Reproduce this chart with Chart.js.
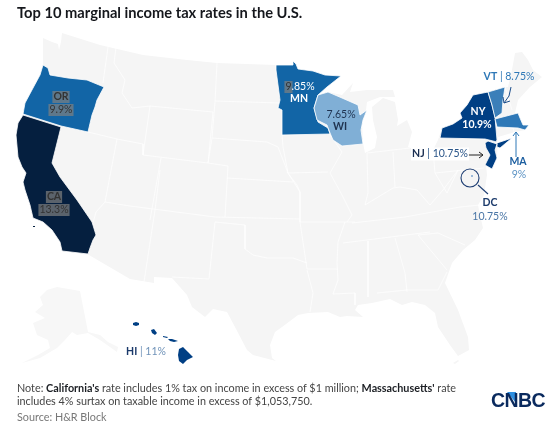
<!DOCTYPE html>
<html>
<head>
<meta charset="utf-8">
<script src="https://cdn.jsdelivr.net/npm/chart.js@4/dist/chart.umd.min.js"></script>
<style>
  body { margin: 0; background: #fff; font-family: Lato, sans-serif; }
  #wrap { position: relative; width: 550px; height: 427px; overflow: hidden; }
  canvas { position: absolute; left: 0; top: 0; }
  h1 { position: absolute; left: 17px; top: 2px; margin: 0; font: 700 14.7px/20px Lato, sans-serif; color: #15171c; white-space: nowrap; }
  #note { position: absolute; left: 17px; top: 381px; font: 10.8px/13px Lato, sans-serif; color: #444; white-space: nowrap; }
  #note b { color: #1c1f24; }
  #source { position: absolute; left: 17px; top: 410px; font: 10.8px/13px Lato, sans-serif; color: #777; white-space: nowrap; }
  #logo { position: absolute; left: 491px; top: 390px; font: 900 19.5px/20px "Liberation Sans", sans-serif; color: #0a2a5e; letter-spacing: -0.6px; }
</style>
</head>
<body>
<div id="wrap">
  <canvas id="mapa" width="550" height="427"></canvas>
  <h1>Top 10 marginal income tax rates in the U.S.</h1>
  <div id="note">Note: <b>California's</b> rate includes 1% tax on income in excess of $1 million; <b>Massachusetts'</b> rate<br>includes 4% surtax on taxable income in excess of $1,053,750.</div>
  <div id="source">Source: H&amp;R Block</div>
  <div id="logo">CNBC</div>
</div>
<script>
// ---------------- DATA ----------------
const stateCodes = ["CA", "HI", "NY", "NJ", "DC", "OR", "MN", "MA", "VT", "WI"];
const stateRates = ["13.3%", "11%", "10.9%", "10.75%", "10.75%", "9.9%", "9.85%", "9%", "8.75%", "7.65%"];

// outlines
const land = [[43,38],[52,42],[58,44],[59,50],[61,42],[62,33],[100,45],[143,55],[187,60],[217,63],[276,65],[293,65],[293,61],[296,64],[298,69],[313,71],[325,75],[341,76],[327,87],[318,95],[328,92],[342,95],[353,83],[350,92],[367,90],[393,90],[395,97],[380,97],[367,102],[366,110],[362,123],[363,143],[365,153],[375,148],[377,137],[373,120],[372,107],[383,98],[395,102],[398,120],[397,126],[407,120],[412,132],[408,147],[420,152],[433,150],[438,140],[442,128],[453,124],[462,118],[460,113],[467,105],[473,95],[488,92],[505,87],[508,87],[512,70],[515,53],[522,52],[528,60],[533,70],[542,77],[530,87],[518,100],[515,113],[520,118],[523,125],[529,125],[525,130],[515,132],[498,137],[497,147],[497,158],[492,169],[486,165],[487,175],[484,195],[478,205],[480,215],[483,228],[475,240],[463,250],[452,263],[445,283],[458,310],[468,337],[469,350],[458,356],[450,345],[438,327],[435,313],[425,305],[412,302],[402,305],[390,299],[372,303],[358,305],[355,310],[363,317],[347,316],[340,317],[328,312],[308,313],[298,315],[282,327],[275,332],[270,345],[272,358],[276,361],[253,355],[247,350],[235,327],[227,312],[213,309],[205,317],[192,307],[187,295],[172,278],[154,277],[154,283],[130,279],[89,255],[62,251],[60,242],[52,230],[43,222],[33,218],[30,205],[25,190],[23,182],[26,173],[22,167],[18,157],[16,135],[23,115],[25,103],[33,88],[40,75],[43,65],[43,50]];
const floridaKeys = [[453,363],[458,360],[459,361],[455,364]];
const alaska = [[47,290],[57,287],[80,291],[88,332],[100,335],[108,342],[118,347],[117,352],[100,340],[88,333],[77,335],[72,332],[65,340],[57,348],[40,358],[22,363],[38,355],[50,348],[48,340],[37,335],[33,323],[45,318],[35,312],[43,305],[40,297]];
const oregon = [[43,65],[48,68],[50,75],[68,78],[87,80],[104,87],[97,100],[95,107],[92,115],[88,132],[61,126],[23,114],[25,103],[33,88],[40,75]];
const california = [[23,115],[61,127],[52,163],[60,177],[77,200],[92,222],[96,235],[93,240],[90,248],[88,254],[62,251],[60,242],[52,230],[43,222],[33,218],[30,205],[25,190],[23,182],[26,173],[22,167],[18,157],[16,135],[18,123]];
const minnesota = [[276,65],[293,65],[293,61],[296,64],[298,69],[313,71],[325,75],[341,76],[327,87],[318,95],[314,108],[318,122],[328,128],[330,134],[282,135],[282,110],[278,108],[280,100],[276,70]];
const wisconsin = [[318,95],[328,92],[342,98],[358,105],[360,115],[367,110],[363,120],[361,130],[363,144],[342,146],[333,140],[330,133],[327,125],[317,120],[314,108]];
const newYork = [[440,138],[442,128],[453,124],[462,118],[460,113],[467,105],[473,95],[488,92],[492,105],[495,117],[497,140],[497,143],[512,138],[500,148],[497,147],[497,142],[485,139]];
const vermont = [[488,92],[505,87],[503,100],[502,113],[495,118],[492,105]];
const massachusetts = [[495,119],[518,113],[520,118],[523,125],[529,125],[525,130],[518,128],[497,127]];
const newJersey = [[485,143],[488,141],[497,144],[495,150],[497,158],[492,169],[485,165],[490,155],[486,148]];
const kauai = [[133,323],[136,322],[139,323],[139,325],[136,326],[133,325]];
const oahu = [[151,330],[154,329],[157,333],[155,335],[152,333]];
const molokai = [[163,336],[168,337],[167,338],[163,337]];
const maui = [[168,339],[172,339],[178,341],[174,342],[170,341]];
const bigIsland = [[179,349],[183,347],[188,352],[193,357],[187,360],[183,364],[179,361],[178,355]];
const dcPoint = [[472,176]];
const lensPoint = [[470,178]];
const catalina = [[33,226],[35,226],[35,227],[33,227]];
const logoWedge = [[507,392],[516,392],[516,403]];

// divisas interiores
const borders = [
  [[108,47],[103,83]], [[116,47],[114,63],[125,80],[122,93],[132,108],[150,106]],
  [[88,132],[117,139],[143,144]], [[150,106],[213,112],[208,163],[143,155],[150,106]],
  [[143,144],[143,155]], [[161,158],[150,220]], [[117,139],[105,202],[96,212],[93,223]],
  [[105,202],[130,206],[215,217],[300,219]], [[155,210],[144,282]], [[160,170],[155,210]],
  [[208,163],[228,166],[225,217]], [[227,178],[293,182]], [[287,172],[297,185],[300,192],[300,222],[307,269]],
  [[217,63],[215,102],[212,138],[208,163]], [[215,101],[280,103]], [[212,138],[267,142],[278,147],[288,173],[300,192]],
  [[282,135],[283,147],[288,173],[328,172]], [[330,135],[342,152],[330,173],[342,195],[352,215],[347,222]],
  [[300,222],[355,222]], [[367,153],[368,193],[365,205]], [[393,152],[395,187]], [[367,153],[410,148]],
  [[365,205],[393,188],[400,187],[417,190],[430,205],[443,190],[458,170]], [[433,150],[435,173],[484,168]],
  [[352,223],[405,217],[460,207],[480,205]], [[343,243],[430,232]], [[418,235],[447,270]], [[418,235],[438,233],[465,245]],
  [[368,241],[368,297]], [[395,238],[405,273],[407,292]], [[377,293],[407,290],[438,290],[447,272]],
  [[333,294],[355,293],[355,305]], [[307,269],[338,269]], [[307,270],[313,293],[310,312]],
  [[338,242],[337,263],[338,280],[333,294]], [[345,222],[338,242]], [[215,222],[245,225],[245,249],[253,255],[267,258],[293,258],[307,263]],
  [[215,222],[209,279],[172,277]], [[505,87],[512,110]], [[513,128],[515,135]], [[497,127],[513,128]], [[435,173],[447,193],[458,170]]
];

// setas e lupa
const lensHandle = [[478,185],[488,194]];
const vtArrow = [[511,87],[509,96],[504,103]];
const vtHead = [[503,97],[504,103],[510,101]];
const maArrow = [[516,157],[516,132]];
const maHead = [[513,136],[516,132],[519,136]];
const njArrow = [[468,155],[483,155]];
const njHead = [[479,152],[483,155],[479,158]];

const LAND = "#f5f5f5", ALASKA = "#f7f7f7", WHITE = "#ffffff";
const rateColor = { "13.3%": "#051f3f", "11%": "#003f84", "10.9%": "#003f84", "10.75%": "#003f84", "9.9%": "#1265a6", "9.85%": "#1265a6", "9%": "#2e78b7", "8.75%": "#3b7fb9", "7.65%": "#80afd6" };
const rateOf = code => stateRates[stateCodes.indexOf(code)];
const colorOf = code => rateColor[rateOf(code)];
const toPoints = list => list.map(p => ({ x: p[0], y: p[1] }));

// ---------------- DATASETS ----------------
function shape(outline, color, line) {
  return {
    data: toPoints(outline.concat([outline[0]])),
    showLine: true,
    fill: "shape",
    backgroundColor: color,
    borderColor: line || color,
    borderWidth: line ? 0.8 : 0,
    pointRadius: 0,
    tension: 0
  };
}

function stroke(path, color, width) {
  return {
    data: toPoints(path),
    showLine: true,
    fill: false,
    borderColor: color,
    borderWidth: width,
    pointRadius: 0,
    tension: 0
  };
}

const layers = [
  shape(land, LAND),
  shape(floridaKeys, LAND),
  shape(alaska, ALASKA),
  shape(catalina, colorOf("CA")),
  ...borders.map(b => stroke(b, WHITE, 0.7)),
  shape(oregon, colorOf("OR"), WHITE),
  shape(california, colorOf("CA"), WHITE),
  shape(minnesota, colorOf("MN"), WHITE),
  shape(wisconsin, colorOf("WI"), WHITE),
  shape(newYork, colorOf("NY"), WHITE),
  shape(vermont, colorOf("VT"), WHITE),
  shape(massachusetts, colorOf("MA"), WHITE),
  shape(newJersey, colorOf("NJ"), WHITE),
  shape(kauai, colorOf("HI")),
  shape(oahu, colorOf("HI")),
  shape(molokai, colorOf("HI")),
  shape(maui, colorOf("HI")),
  shape(bigIsland, colorOf("HI")),
  { data: toPoints(dcPoint), pointRadius: 1, backgroundColor: "#7fa6cf", borderWidth: 0 },
  { data: toPoints(lensPoint), pointRadius: 9, backgroundColor: "rgba(0,0,0,0)", borderColor: "#1f3f74", borderWidth: 1.1 },
  stroke(lensHandle, "#1f3f74", 1.1),
  stroke(vtArrow, "#1d4f8c", 1),
  stroke(vtHead, "#1d4f8c", 1),
  stroke(maArrow, "#2e78b7", 1),
  stroke(maHead, "#2e78b7", 1),
  stroke(njArrow, "#222222", 1),
  stroke(njHead, "#222222", 1),
  shape(logoWedge, "#2e8fe0")
];

// Chart.js pinta o primeiro dataset por cima
layers.forEach((d, i) => { d.order = layers.length - i; });

// ---------------- ETIQUETAS ----------------
const BOLD = "700 10.5px Lato, sans-serif";
const REG = "400 10.5px Lato, sans-serif";
const labels = [
  { x: 61, y: 97, runs: [["OR", BOLD, "#333"]], mark: "all" },
  { x: 61, y: 110, runs: [[rateOf("OR"), REG, "#333"]], mark: "all" },
  { x: 54, y: 197, runs: [["CA", BOLD, "#333"]], mark: "all" },
  { x: 54, y: 210, runs: [[rateOf("CA"), REG, "#333"]], mark: "all" },
  { x: 300, y: 87, runs: [["9", REG, "#333"], [".85%", REG, "#fff"]], mark: "first" },
  { x: 299, y: 99, runs: [["MN", BOLD, "#fff"]] },
  { x: 341, y: 115, runs: [[rateOf("WI"), REG, "#1f3350"]] },
  { x: 340, y: 127, runs: [["WI", BOLD, "#1f3350"]] },
  { x: 478, y: 112, runs: [["NY", BOLD, "#fff"]] },
  { x: 477, y: 125, runs: [[rateOf("NY"), BOLD, "#fff"]] },
  { x: 509, y: 77, runs: [["VT", BOLD, "#2e78b7"], [" | " + rateOf("VT"), REG, "#2e78b7"]] },
  { x: 440, y: 154, runs: [["NJ", BOLD, "#1b2f52"], [" | " + rateOf("NJ"), REG, "#2a5588"]], back: "#fff" },
  { x: 518, y: 162, runs: [["MA", BOLD, "#1d5fa0"]] },
  { x: 519, y: 175, runs: [[rateOf("MA"), REG, "#5c93c4"]] },
  { x: 490, y: 203, runs: [["DC", BOLD, "#1b3a6b"]] },
  { x: 490, y: 217, runs: [[rateOf("DC"), REG, "#4a76a6"]] },
  { x: 146, y: 352, runs: [["HI", BOLD, "#1b3a6b"], [" | " + rateOf("HI"), REG, "#6f92b8"]] }
];

const stateLabels = {
  id: "stateLabels",
  afterDatasetsDraw(chart) {
    const { ctx, scales } = chart;
    ctx.save();
    ctx.textBaseline = "middle";
    ctx.textAlign = "left";
    labels.forEach(l => {
      const widths = l.runs.map(r => { ctx.font = r[1]; return ctx.measureText(r[0]).width; });
      const total = widths.reduce((a, b) => a + b, 0);
      let px = scales.x.getPixelForValue(l.x) - total / 2;
      const py = scales.y.getPixelForValue(l.y);
      if (l.back) {
        ctx.fillStyle = l.back;
        ctx.fillRect(px - 1, py - 6.5, total + 2, 13);
      }
      l.runs.forEach((r, i) => {
        if (l.mark === "all" || (l.mark === "first" && i === 0)) {
          ctx.fillStyle = "rgba(128,128,128,0.7)";
          ctx.fillRect(px - 1, py - 6, widths[i] + 2, 12);
        }
        ctx.font = r[1];
        ctx.fillStyle = r[2];
        ctx.fillText(r[0], px, py);
        px += widths[i];
      });
    });
    ctx.restore();
  }
};

// ---------------- GRÁFICO ----------------
new Chart(document.getElementById("mapa"), {
  type: "scatter",
  data: { datasets: layers },
  options: {
    responsive: false,
    animation: false,
    layout: { padding: 0, autoPadding: false },
    plugins: { legend: { display: false }, tooltip: { enabled: false }, title: { display: false } },
    scales: {
      x: { type: "linear", min: 0, max: 550, display: false },
      y: { type: "linear", min: 0, max: 427, reverse: true, display: false }
    }
  },
  plugins: [stateLabels]
});
</script>
</body>
</html>
